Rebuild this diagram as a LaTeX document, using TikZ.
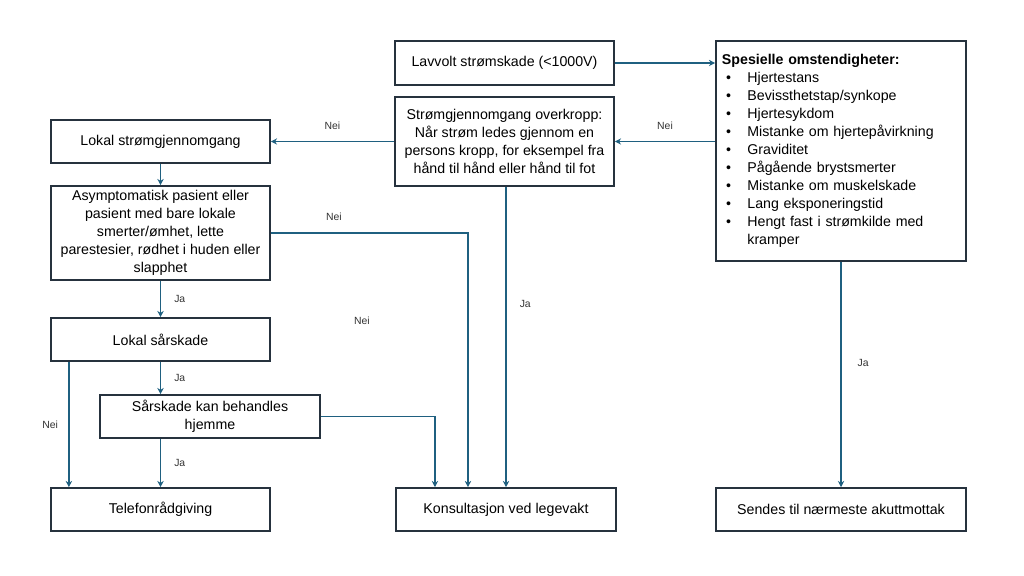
\documentclass[tikz,border=0pt]{standalone}
\usepackage{fontspec}
\setmainfont{Liberation Sans}
\usepackage{tikz}
\usetikzlibrary{arrows.meta}

\definecolor{linjeblaa}{RGB}{31,96,128}
\definecolor{kant}{RGB}{38,50,62}

\newcommand{\pkt}[1]{\hspace*{3pt}\makebox[0.53cm][l]{\textbullet}#1}

\begin{document}
\begin{tikzpicture}[x=0.025cm,y=-0.025cm,
    boks/.style={draw=kant,line width=1.1pt,align=center,inner sep=2pt,
      minimum width=5.475cm,minimum height=1.075cm,
      font=\fontsize{10.1}{12.8}\selectfont},
    pil/.style={draw=linjeblaa,line width=0.9pt,-{Stealth[length=4.5pt,width=4.5pt]}},
    etikett/.style={font=\fontsize{7.4}{8}\selectfont,text=black!80}]
          \useasboundingbox (0,0) rectangle (1024,576);
          % bokser
          \node[boks,minimum height=1.1cm] (lavvolt) at (504.5,63) {Lavvolt strømskade (<1000V)};
          \node[boks,minimum height=2.225cm] (overkropp) at (504.5,141.5)
            {Strømgjennomgang overkropp:\\ Når strøm ledes gjennom en\\ persons kropp, for eksempel fra\\ hånd til hånd eller hånd til fot};
          \node[boks,minimum width=6.25cm,minimum height=5.5cm,align=left,text width=5.95cm] (spesielle) at (841,151)
            {\textbf{Spesielle omstendigheter:}\\
             \pkt{Hjertestans}\\
             \pkt{Bevissthetstap/synkope}\\
             \pkt{Hjertesykdom}\\
             \pkt{Mistanke om hjertepåvirkning}\\
             \pkt{Graviditet}\\
             \pkt{Pågående brystsmerter}\\
             \pkt{Mistanke om muskelskade}\\
             \pkt{Lang eksponeringstid}\\
             \pkt{Hengt fast i strømkilde med}\\
             \hspace*{3pt}\hspace*{0.53cm}kramper};
          \node[boks] (lokalstrom) at (160.5,141.5) {Lokal strømgjennomgang};
          \node[boks,minimum height=2.35cm] (asymp) at (160.5,233)
            {Asymptomatisk pasient eller\\ pasient med bare lokale\\ smerter/ømhet, lette\\ parestesier, rødhet i huden eller\\ slapphet};
          \node[boks] (lokalsaar) at (160.5,339.5) {Lokal sårskade};
          \node[boks,minimum width=5.5cm] (hjemme) at (210,416.5) {Sårskade kan behandles\\ hjemme};
          \node[boks] (telefon) at (160.5,509.5) {Telefonrådgiving};
          \node[boks,minimum width=5.5cm] (konsult) at (506,509.5) {Konsultasjon ved legevakt};
          \node[boks,minimum width=6.25cm] (sendes) at (841,509.5) {Sendes til nærmeste akuttmottak};
          % piler
          \draw[pil] (lavvolt.east) -- (spesielle.west |- lavvolt);
          \draw[pil] (spesielle.west |- overkropp) -- (overkropp.east)
            node[etikett,midway,above=5pt] {Nei};
          \draw[pil] (overkropp.west) -- (lokalstrom.east)
            node[etikett,midway,above=5pt] {Nei};
          \draw[pil] (lokalstrom) -- (asymp);
          \draw[pil] (asymp.east) -| ([xshift=-0.95cm]konsult.north)
            node[etikett,pos=0.16,above=5pt] {Nei};
          \draw[pil] (asymp) -- (lokalsaar) node[etikett,midway,right=6pt] {Ja};
          \draw[pil] (lokalsaar) -- (hjemme.north -| lokalsaar) node[etikett,midway,right=6pt] {Ja};
          \draw[pil] ([xshift=-2.29cm]lokalsaar.south) -- ([xshift=-2.29cm]telefon.north)
            node[etikett,midway,left=4pt] {Nei};
          \draw[pil] (telefon.north |- hjemme.south) -- (telefon) node[etikett,midway,right=6pt] {Ja};
          \draw[pil] (hjemme.east) -| ([xshift=-1.775cm]konsult.north);
          \draw[pil] (konsult.north |- overkropp.south) -- (konsult.north)
            node[etikett,pos=0.39,right=6pt] {Ja};
          \draw[pil] (spesielle) -- (sendes) node[etikett,pos=0.45,right=8pt] {Ja};
          \node[etikett] (nei) at (362,321) {Nei};
        \end{tikzpicture}
\end{document}
